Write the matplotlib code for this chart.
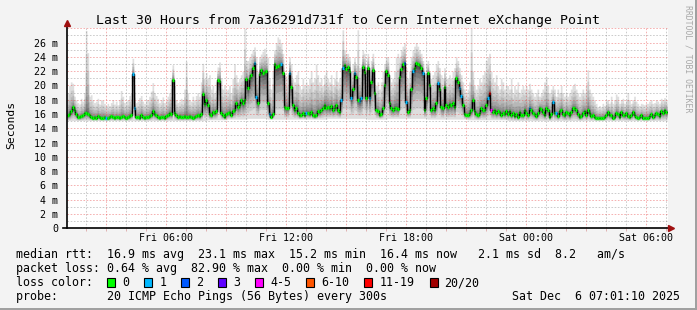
import numpy as np
import matplotlib.pyplot as plt
from matplotlib.patches import Rectangle
from matplotlib.lines import Line2D

W, H = 697, 310
MONO = 'DejaVu Sans Mono'

# time axis in hours since Fri 00:00, one sample every 5 minutes
start_hour = 1.0667
end_hour = 31.117
step_h = 5 / 60

# median rtt (ms), one row per hour, 12 five-minute samples each
median_rows = [
    [15.8, 16.0, 16.4, 17.0, 16.6, 16.0, 15.6, 15.6, 15.7, 15.8, 16.1, 16.2],
    [16.0, 15.8, 15.6, 15.5, 15.6, 15.5, 15.7, 15.6, 15.5, 15.5, 15.6, 15.4],
    [15.5, 15.6, 15.7, 15.6, 15.5, 15.6, 15.6, 15.5, 15.6, 15.7, 15.6, 15.5],
    [15.6, 15.7, 15.9, 21.6, 16.8, 15.6, 15.6, 15.5, 15.9, 15.6, 15.5, 15.6],
    [15.6, 15.7, 15.9, 16.4, 16.0, 15.8, 15.6, 15.5, 15.6, 15.6, 15.5, 15.7],
    [15.9, 16.1, 16.0, 20.8, 16.2, 15.8, 15.6, 15.7, 15.6, 15.6, 15.7, 15.6],
    [15.6, 15.7, 15.6, 15.5, 15.6, 15.7, 15.8, 15.7, 16.0, 18.8, 17.4, 18.0],
    [17.2, 16.0, 15.8, 16.3, 16.2, 16.4, 20.8, 20.6, 16.2, 15.8, 15.6, 16.0],
    [16.1, 16.3, 15.9, 16.4, 16.6, 17.6, 17.0, 17.3, 18.0, 17.5, 18.0, 20.9],
    [19.6, 21.0, 21.5, 22.4, 23.1, 18.4, 17.6, 21.6, 22.2, 21.8, 21.9, 22.0],
    [17.5, 16.0, 15.6, 16.0, 23.0, 22.6, 22.7, 22.9, 23.0, 21.7, 17.0, 16.8],
    [16.9, 21.8, 19.8, 17.3, 16.6, 16.9, 16.2, 15.8, 15.9, 16.1, 15.8, 16.2],
    [16.1, 16.0, 16.3, 15.8, 15.7, 15.8, 16.4, 16.3, 16.6, 16.9, 17.3, 16.9],
    [17.0, 16.8, 17.1, 16.6, 16.9, 17.2, 16.5, 16.3, 18.0, 22.4, 22.8, 22.3],
    [22.6, 22.0, 18.2, 19.5, 21.7, 21.2, 18.0, 17.8, 18.2, 22.6, 21.9, 18.2],
    [22.4, 18.2, 20.5, 22.2, 19.0, 16.6, 16.4, 15.9, 16.0, 16.8, 20.0, 22.0],
    [21.5, 17.5, 16.8, 16.6, 16.9, 16.8, 16.7, 21.2, 22.3, 23.0, 23.1, 17.7],
    [16.3, 16.5, 19.5, 22.0, 22.4, 23.1, 23.0, 22.9, 22.5, 21.7, 16.6, 18.2],
    [21.7, 20.0, 16.6, 16.8, 16.6, 17.5, 20.3, 19.5, 17.0, 16.8, 19.8, 17.2],
    [17.0, 17.4, 17.2, 17.5, 17.0, 21.0, 20.5, 19.6, 18.5, 17.3, 16.0, 15.9],
    [15.9, 16.1, 16.5, 18.0, 16.4, 16.0, 15.8, 16.2, 16.8, 16.5, 16.6, 17.2],
    [18.2, 18.9, 16.6, 16.3, 16.5, 16.1, 16.4, 16.3, 15.9, 16.2, 16.0, 16.4],
    [16.0, 16.4, 15.8, 16.2, 15.7, 16.0, 15.6, 16.3, 15.9, 15.8, 16.6, 16.2],
    [15.9, 16.8, 16.6, 16.2, 16.0, 15.7, 16.1, 16.9, 16.7, 16.3, 15.9, 16.8],
    [16.5, 15.6, 16.0, 17.7, 16.2, 16.1, 15.7, 16.4, 16.6, 16.0, 15.8, 16.3],
    [16.1, 15.8, 16.3, 16.9, 16.8, 16.6, 16.0, 15.6, 15.7, 16.2, 16.4, 15.9],
    [16.6, 16.2, 15.7, 15.9, 15.6, 15.5, 15.5, 15.5, 15.5, 15.5, 15.6, 15.9],
    [16.3, 15.9, 15.8, 15.5, 15.6, 16.2, 16.0, 15.6, 16.3, 15.9, 15.8, 16.1],
    [15.7, 15.6, 15.8, 16.3, 15.9, 15.6, 15.5, 15.6, 15.8, 15.5, 15.5, 15.5],
    [15.5, 15.7, 16.0, 15.6, 15.8, 16.1, 16.0, 15.7, 16.4, 16.2, 16.5, 16.3],
]

# slowest ping of each sample (top of the smoke)
hi_rows = [
    [19.0, 20.0, 20.5, 20.3, 18.5, 18.0, 17.6, 17.4, 18.2, 17.8, 19.0, 27.7],
    [24.6, 18.5, 18.7, 18.0, 17.6, 17.8, 18.2, 17.4, 18.0, 17.9, 17.5, 17.2],
    [17.5, 17.2, 17.6, 18.0, 17.4, 17.8, 17.3, 18.0, 19.3, 18.5, 17.6, 17.8],
    [18.0, 18.6, 19.0, 23.8, 20.0, 17.6, 17.8, 18.3, 18.6, 17.8, 17.5, 18.0],
    [18.0, 18.5, 19.2, 20.4, 19.0, 18.6, 18.2, 17.6, 18.0, 18.4, 17.6, 17.9],
    [18.5, 19.0, 21.0, 22.9, 20.0, 18.0, 17.6, 17.8, 18.2, 18.0, 19.5, 23.4],
    [19.0, 18.0, 17.8, 18.5, 18.0, 18.6, 19.0, 18.5, 20.5, 23.1, 21.0, 21.8],
    [21.0, 21.5, 19.5, 20.0, 19.0, 20.5, 22.6, 23.3, 21.0, 19.5, 20.0, 19.3],
    [19.5, 20.0, 19.0, 21.0, 23.0, 21.5, 20.5, 21.0, 21.5, 22.0, 28.0, 23.5],
    [23.5, 24.0, 24.5, 25.0, 25.4, 24.0, 22.0, 24.0, 24.4, 24.8, 25.2, 24.5],
    [24.0, 21.0, 19.5, 22.0, 25.0, 26.0, 26.8, 26.5, 26.0, 24.5, 21.5, 21.0],
    [21.5, 24.0, 23.0, 21.0, 20.5, 21.5, 22.0, 20.0, 19.5, 21.0, 20.0, 20.5],
    [20.0, 21.0, 22.0, 20.5, 21.0, 23.0, 21.5, 20.5, 21.0, 20.0, 21.5, 22.0],
    [21.0, 20.5, 21.5, 20.0, 21.0, 22.0, 20.5, 21.0, 22.5, 27.8, 25.0, 24.5],
    [24.5, 24.0, 22.0, 23.0, 24.0, 23.0, 27.8, 22.5, 23.0, 25.0, 24.5, 22.0],
    [24.5, 22.0, 23.5, 24.5, 22.0, 20.0, 20.5, 19.5, 20.5, 22.0, 23.0, 24.0],
    [24.0, 21.0, 20.5, 21.0, 22.0, 24.0, 24.5, 24.0, 25.0, 25.5, 26.0, 22.5],
    [21.0, 22.0, 24.0, 25.0, 25.5, 26.0, 25.5, 25.0, 24.5, 23.5, 21.5, 23.0],
    [23.5, 22.0, 21.0, 21.5, 22.0, 23.0, 23.5, 22.5, 21.5, 21.0, 22.5, 21.0],
    [21.0, 21.5, 21.0, 22.0, 22.5, 24.0, 23.5, 22.5, 21.5, 20.5, 19.5, 19.0],
    [19.5, 20.5, 28.0, 22.0, 20.0, 19.5, 20.0, 21.0, 20.5, 21.5, 22.0, 23.5],
    [24.0, 24.5, 22.0, 21.0, 20.5, 21.5, 20.0, 19.5, 21.0, 20.5, 19.5, 20.0],
    [20.0, 19.5, 21.0, 19.0, 20.0, 19.5, 20.5, 19.0, 19.5, 20.0, 19.5, 20.0],
    [19.5, 20.3, 19.5, 19.0, 18.5, 19.0, 19.5, 18.5, 19.0, 19.5, 20.5, 21.2],
    [20.0, 19.0, 19.5, 20.0, 19.5, 18.5, 19.5, 19.0, 20.0, 19.0, 18.5, 19.0],
    [18.5, 19.0, 19.5, 20.0, 20.3, 19.5, 19.0, 18.5, 19.0, 19.5, 19.0, 20.0],
    [22.2, 19.5, 19.0, 18.5, 18.0, 17.5, 17.0, 17.2, 17.0, 17.5, 17.2, 18.0],
    [18.0, 17.5, 18.5, 17.5, 18.0, 18.8, 18.5, 17.5, 18.0, 18.2, 17.5, 18.0],
    [19.0, 18.0, 17.5, 18.0, 18.5, 17.8, 17.5, 17.2, 17.5, 17.4, 17.3, 17.5],
    [17.5, 17.8, 18.0, 17.5, 17.6, 18.0, 17.8, 17.5, 18.2, 18.0, 18.3, 18.0],
]

# fastest ping, per hour
lo_hourly = [15.1, 15.1, 15.1, 15.1, 15.1, 15.1, 15.1, 15.2, 15.3, 15.4,
             15.3, 15.3, 15.3, 15.4, 15.4, 15.3, 15.4, 15.4, 15.3, 15.3,
             15.2, 15.2, 15.1, 15.1, 15.1, 15.1, 15.1, 15.1, 15.1, 15.1]

# (hour row, sample, pings lost)
loss_points = [(1, 11, 1), (3, 3, 1), (3, 4, 1), (9, 4, 1), (9, 5, 1),
               (10, 1, 1), (10, 8, 1), (11, 1, 1), (11, 11, 1), (13, 8, 1),
               (13, 9, 1), (14, 2, 1), (14, 4, 1), (14, 7, 1), (14, 8, 1),
               (15, 1, 1), (16, 10, 2), (16, 11, 1), (17, 3, 1), (17, 9, 1),
               (18, 6, 1), (19, 7, 1), (19, 8, 1), (21, 0, 1), (21, 1, 12),
               (21, 2, 4), (23, 1, 1), (24, 3, 1), (24, 5, 1)]

loss_labels = ['0', '1', '2', '3', '4-5', '6-10', '11-19', '20/20']
loss_upper = [0, 1, 2, 3, 5, 10, 19, 20]
loss_colors = ['#00ff00', '#00b8ff', '#0059ff', '#5e00ff',
               '#ff00fe', '#ff5500', '#ff0000', '#a10000']

x_ticks = [6, 12, 18, 24, 30]
x_labels = ['Fri 06:00', 'Fri 12:00', 'Fri 18:00', 'Sat 00:00', 'Sat 06:00']
y_ticks = list(range(0, 28, 2))
y_labels = ['0'] + [f'{v} m' for v in y_ticks[1:]]

title = 'Last 30 Hours from 7a36291d731f to Cern Internet eXchange Point'
rtt_line = 'median rtt:  16.9 ms avg  23.1 ms max  15.2 ms min  16.4 ms now   2.1 ms sd  8.2   am/s'
loss_line = 'packet loss: 0.64 % avg  82.90 % max  0.00 % min  0.00 % now'
probe_line = 'probe:       20 ICMP Echo Pings (56 Bytes) every 300s'
stamp = 'Sat Dec  6 07:01:10 2025'


def fx(x):
    return x / W


def fy(y):
    return 1 - y / H


med = np.array(median_rows).ravel()
hi = np.maximum(np.array(hi_rows).ravel(), med + 0.3)
lo = np.minimum(np.repeat(lo_hourly, 12), med - 0.2)
n = len(med)
t = start_hour + np.arange(n) * step_h
edges = np.append(t, t[-1] + step_h)

loss = np.zeros(n, dtype=int)
for r, i, c in loss_points:
    loss[r * 12 + i] = c
line_cols = [loss_colors[next(k for k, u in enumerate(loss_upper) if c <= u)] for c in loss]

fig = plt.figure(figsize=(W / 100, H / 100), dpi=100, facecolor='#f3f3f3')
ax = fig.add_axes([fx(67), fy(228.3), (668 - 67) / W, (228.3 - 28) / H])
ax.set_facecolor('white')
ax.set_xlim(start_hour, end_hour)
ax.set_ylim(0, 28.05)
for s in ax.spines.values():
    s.set_visible(False)

# smoke: nested bands, darker towards the median
n_band = 10
shades = np.linspace(0.87, 0.18, n_band)
for j in range(n_band):
    f = 1 - j / n_band
    top = med + (hi - med) * f ** 3.2
    bot = med - (med - lo) * f ** 2.0
    ax.fill_between(edges, np.append(bot, bot[-1]), np.append(top, top[-1]),
                    step='post', color=str(shades[j]), lw=0, zorder=1)

# grid, dotted like rrdtool
grid_gray = (0.5, 0.5, 0.5, 0.4)
grid_red = (0.9, 0.25, 0.25, 0.4)
for h in range(2, 32):
    ax.axvline(h, color=grid_red if h % 3 == 0 else grid_gray,
               lw=0.72, ls=(0, (1.6, 1.6)), zorder=2)
for v in range(1, 29):
    ax.axhline(v, color=grid_red if v % 2 == 0 else grid_gray,
               lw=0.72, ls=(0, (1.6, 1.6)), zorder=2)

# median line coloured by loss
ax.step(edges, np.append(med, med[-1]), where='post', color='black', lw=1.0, zorder=3)
ax.hlines(med, t, t + step_h, colors=line_cols, lw=2.4, zorder=4)

# axes with arrows
ax.add_line(Line2D([-0.007, 1.004], [0, 0], transform=ax.transAxes, color='black',
                   lw=1.2, clip_on=False, zorder=5))
ax.add_line(Line2D([0, 0], [0, 1.02], transform=ax.transAxes, color='black',
                   lw=1.2, clip_on=False, zorder=5))
ax.plot([0], [1.025], marker='^', ms=4.5, color='#a01010', transform=ax.transAxes,
        clip_on=False, zorder=6)
ax.plot([1.005], [0], marker='>', ms=4.5, color='#a01010', transform=ax.transAxes,
        clip_on=False, zorder=6)

ax.set_xticks(x_ticks)
ax.set_xticklabels(x_labels, fontfamily=MONO, fontsize=7.2)
ax.set_xticks(range(2, 32), minor=True)
ax.tick_params(axis='x', which='major', length=0, pad=3.7)
ax.tick_params(axis='x', which='minor', length=2, color='#e0b0b0', width=0.7)
ax.set_yticks(y_ticks)
ax.set_yticklabels(y_labels, fontfamily=MONO, fontsize=7.2)
ax.tick_params(axis='y', length=0, pad=6.3)

fig.text(fx(347.7), fy(24), title, fontfamily=MONO, fontsize=9.5,
         ha='center', va='baseline')
fig.text(fx(11), fy(125), 'Seconds', fontfamily=MONO, fontsize=8.2,
         rotation=90, ha='center', va='center')
fig.text(fx(688), fy(5), 'RRDTOOL / TOBI OETIKER', fontfamily=MONO, fontsize=5.9,
         rotation=270, ha='center', va='top', color='#a8a8a8')

char_w = 7.02
fig.text(fx(16), fy(258.3), rtt_line, fontfamily=MONO, fontsize=8.4, va='baseline')
fig.text(fx(16), fy(272.3), loss_line, fontfamily=MONO, fontsize=8.4, va='baseline')
fig.text(fx(16), fy(286.3), 'loss color:', fontfamily=MONO, fontsize=8.4, va='baseline')
fig.text(fx(16), fy(300.3), probe_line, fontfamily=MONO, fontsize=8.4, va='baseline')
fig.text(fx(680), fy(300.3), stamp, fontfamily=MONO, fontsize=8.4,
         va='baseline', ha='right')

cursor = 16 + 13 * char_w
for lab, col in zip(loss_labels, loss_colors):
    fig.add_artist(Rectangle((fx(cursor), fy(286.7)), 8 / W, 8.3 / H,
                             transform=fig.transFigure, facecolor=col,
                             edgecolor='black', lw=0.8))
    fig.text(fx(cursor + 15), fy(286.3), lab, fontfamily=MONO, fontsize=8.4,
             va='baseline')
    cursor += 15 + len(lab) * char_w + 15

# canvas shadow frame
fig.add_artist(Rectangle((0, 0), 1, 2 / H, transform=fig.transFigure,
                         facecolor='#a0a0a0', lw=0))
fig.add_artist(Rectangle((1 - 2 / W, 0), 2 / W, 1, transform=fig.transFigure,
                         facecolor='#a0a0a0', lw=0))

fig.savefig('out.png', dpi=100, facecolor=fig.get_facecolor())
